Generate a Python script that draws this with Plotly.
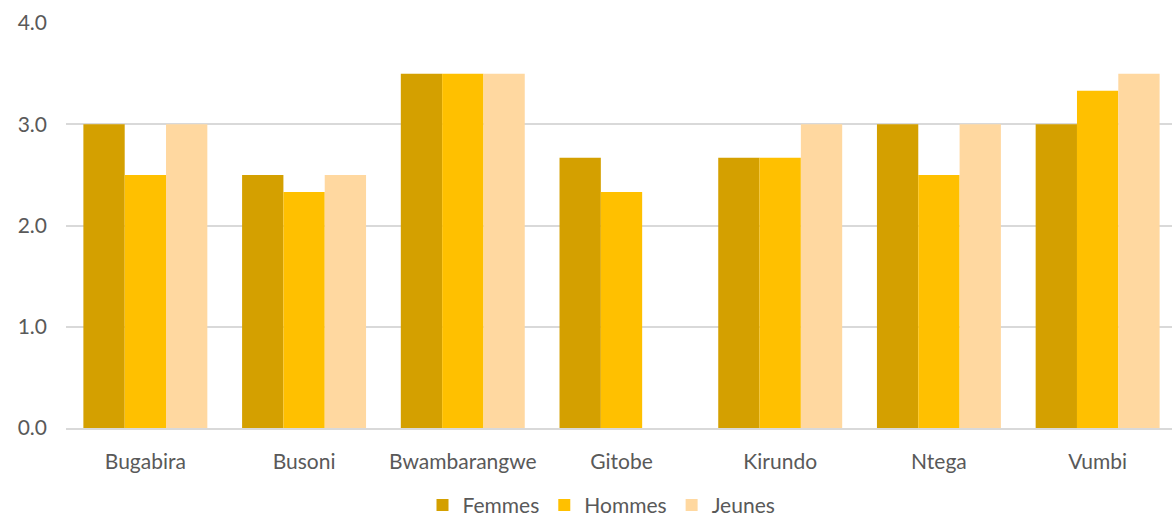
import plotly.graph_objects as go

categories = ["Bugabira", "Busoni", "Bwambarangwe", "Gitobe", "Kirundo", "Ntega", "Vumbi"]
femmes = [3.0, 2.5, 3.5, 2.67, 2.67, 3.0, 3.0]
hommes = [2.5, 2.33, 3.5, 2.33, 2.67, 2.5, 3.33]
jeunes = [3.0, 2.5, 3.5, None, 3.0, 3.0, 3.5]
y_ticks = [0, 1, 2, 3, 4]
y_tick_labels = ["0.0", "1.0", "2.0", "3.0", "4.0"]

fig = go.Figure()
for name, vals, col in [("Femmes", femmes, "#D4A000"),
                        ("Hommes", hommes, "#FFC000"),
                        ("Jeunes", jeunes, "#FFD8A0")]:
    fig.add_trace(go.Bar(x=categories, y=vals, name=name, marker_color=col,
                         marker_line_width=0))

fig.update_layout(
    width=1177, height=521,
    margin=dict(l=66, r=0, t=23, b=93, autoexpand=False),
    barmode="group", bargap=0.219, bargroupgap=0,
    plot_bgcolor="white", paper_bgcolor="white",
    font=dict(family="Lato, Liberation Sans, sans-serif", size=21, color="#595959"),
    legend=dict(orientation="h", x=0.482, xanchor="center", yref="container",
                y=0.03, yanchor="middle",
                font=dict(size=21, color="#595959"), itemwidth=30, tracegroupgap=0),
    yaxis=dict(range=[0, 4], tickvals=y_ticks, ticktext=y_tick_labels,
               showgrid=True, gridcolor="#D9D9D9", gridwidth=1.5, zeroline=False,
               showline=False, ticks="", ticklabelstandoff=18),
    xaxis=dict(showline=True, linecolor="#D9D9D9", linewidth=1.5, ticks="",
               ticklabelstandoff=14),
    showlegend=True,
)
fig.write_html("out.html", config={"displayModeBar": False},
               post_script="document.body.style.margin='0';document.body.style.overflow='hidden';")
